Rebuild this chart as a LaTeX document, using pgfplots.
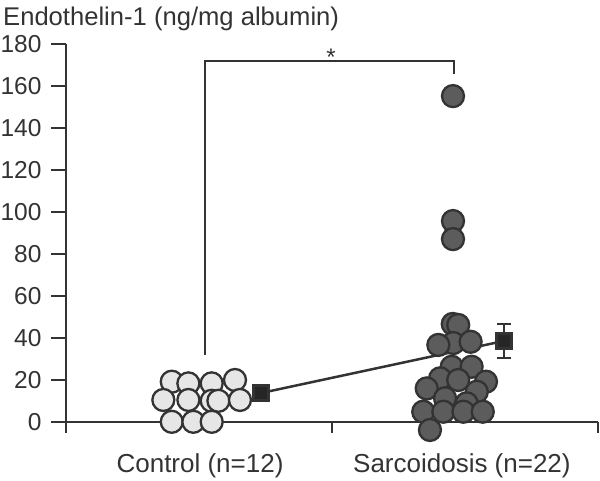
\documentclass[border=0pt]{standalone}
\usepackage{fontspec}
\setmainfont{Liberation Sans}
\usepackage{pgfplots}
\pgfplotsset{compat=1.18}
\definecolor{edge}{HTML}{333333}
\definecolor{ctrl}{HTML}{E6E6E6}
\definecolor{sarc}{HTML}{5C5C5C}
\definecolor{meanc}{HTML}{262626}

\begin{document}
\begin{tikzpicture}[x=1pt,y=1pt]
\path[use as bounding box] (0pt,0pt) rectangle (600pt,-480pt);
\node[anchor=base west, inner sep=0, text=edge, font=\fontsize{25.6}{30}\selectfont]
  at (3pt,-25pt) {Endothelin-1 (ng/mg albumin)};
\begin{axis}[
  at={(66pt,-422pt)}, anchor=south west,
  scale only axis, width=532pt, height=378pt,
  xmin=0.43952, xmax=2.5847, ymin=0, ymax=180,
  axis x line*=bottom, axis y line*=left,
  axis line style={-, edge, line width=2.6pt},
  ytick={0,20,...,180},
  tick align=outside, major tick length=15pt,
  ytick style={edge, line width=2.6pt},
  xtick={0.98,2.036},
  xticklabels={Control (n=12), Sarcoidosis (n=22)},
  x tick style={draw=none},
  tick label style={text=edge},
  yticklabel style={font=\fontsize{24.5}{28}\selectfont, xshift=-6pt},
  xticklabel style={font=\fontsize{26}{30}\selectfont, yshift=-13pt},
  /pgf/number format/assume math mode=true,
  clip=false,
]
% y axis runs a little below zero; short ticks split the x axis in two
\draw[edge, line width=2.6pt] (axis cs:0.43952,0) -- (axis cs:0.43952,-5.2);
\draw[edge, line width=2.6pt] (axis cs:1.5121,0) -- (axis cs:1.5121,-5.4);
\draw[edge, line width=2.6pt] (axis cs:2.5847,0) -- (axis cs:2.5847,-5.4);

% significance bracket
\draw[edge, line width=2.5pt] (axis cs:1,31.9) -- (axis cs:1,171.9)
  -- (axis cs:2.004,171.9) -- (axis cs:2.004,165.7);
\node[anchor=base, text=edge, font=\fontsize{24}{28}\selectfont]
  at (axis cs:1.508,170) {*};

% control group
\addplot[only marks, mark=*, mark size=11pt,
  mark options={fill=ctrl, draw=edge, line width=2.3pt}]
table {
x y
0.866 19.2
0.933 18.4
1.027 18.4
1.121 20.0
0.832 10.5
0.933 10.5
1.027 10.1
1.054 10.1
1.141 10.5
0.866 0.1
0.953 0.1
1.027 0.1
};

% sarcoidosis group
\addplot[only marks, mark=*, mark size=11pt,
  mark options={fill=sarc, draw=edge, line width=2.3pt}]
table {
x y
2.000 155.2
2.000 95.7
2.000 87.1
1.999 46.7
2.021 46.2
2.001 37.6
1.941 36.7
2.071 38.2
1.995 26.3
2.075 26.3
1.948 20.8
2.021 20.0
2.133 19.2
1.894 16.0
2.096 14.4
1.968 11.3
2.055 8.9
1.880 4.9
1.961 4.9
2.042 4.9
2.120 4.9
1.907 -3.8
};

% means
\addplot[edge, line width=2.5pt, mark=square*, mark size=7.5pt,
  mark options={fill=meanc, draw=none},
  error bars/.cd, y dir=both, y explicit,
  error bar style={edge, line width=2.3pt},
  error mark options={rotate=90, mark size=7pt, line width=2.3pt, edge}]
table[y error=e] {
x y e
1.226 13.8 0
2.206 38.6 8.1
};
\end{axis}
\end{tikzpicture}
\end{document}
